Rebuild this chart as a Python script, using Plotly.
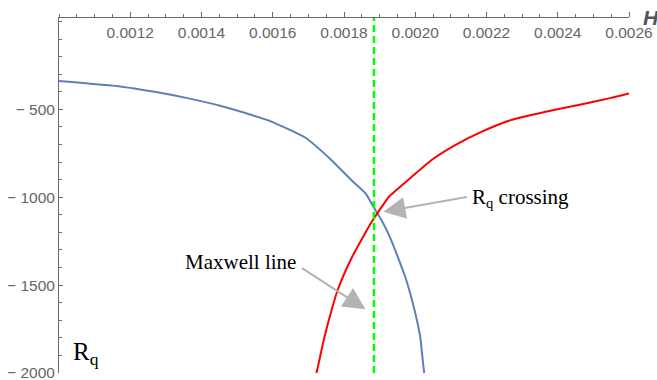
import plotly.graph_objects as go

# ---- data ----
blue_H = [0.001000, 0.001176, 0.001268, 0.001360, 0.001455, 0.001547, 0.001598,
          0.001693, 0.001765, 0.001821, 0.001860, 0.001888, 0.001905, 0.001930,
          0.001972, 0.002000, 0.002014, 0.002025, 0.002030]
blue_R = [-339, -371, -400, -436, -481, -536, -571,
          -663, -789, -903, -977, -1073, -1130, -1232,
          -1454, -1659, -1796, -1996, -2030]

red_H = [0.001715, 0.001723, 0.001743, 0.001765, 0.001782, 0.001821, 0.001877,
         0.001919, 0.001925, 0.001989, 0.002045, 0.002112, 0.002184, 0.002268,
         0.002363, 0.002455, 0.002547, 0.002600]
red_R = [-2040, -1996, -1814, -1643, -1529, -1347, -1142,
         -1016, -999, -886, -789, -703, -629, -561,
         -515, -476, -436, -410]

maxwell_H = 0.001884
maxwell_R = [-2000, 20]

x_tickvals = [0.0012, 0.0014, 0.0016, 0.0018, 0.0020, 0.0022, 0.0024, 0.0026]
x_ticktext = ["0.0012", "0.0014", "0.0016", "0.0018", "0.0020", "0.0022", "0.0024", "0.0026"]
y_tickvals = [-500, -1000, -1500, -2000]
y_ticktext = ["\u2212 500", "\u2212 1000", "\u2212 1500", "\u2212 2000"]

crossing_tip = (0.0019106, -1083)
maxwell_tip = (0.0018603, -1637)

# ---- figure ----
fig = go.Figure()
fig.add_trace(go.Scatter(x=blue_H, y=blue_R, mode="lines",
                         line=dict(color="#5E81B5", width=2, shape="spline", smoothing=0.5),
                         showlegend=False))
fig.add_trace(go.Scatter(x=red_H, y=red_R, mode="lines",
                         line=dict(color="#FF0000", width=2, shape="spline", smoothing=0.5),
                         showlegend=False))
fig.add_trace(go.Scatter(x=[maxwell_H, maxwell_H], y=maxwell_R, mode="lines",
                         line=dict(color="#00FF00", width=2.5, dash="7px,4px"),
                         showlegend=False))

axis_col = "#6b6b6b"
tickfont = dict(family="Liberation Sans, Arial, sans-serif", size=15.5, color="#666666")

fig.update_layout(
    width=657, height=380,
    margin=dict(l=59, r=28, t=18, b=7),
    paper_bgcolor="white", plot_bgcolor="white",
    xaxis=dict(range=[0.001, 0.0026], side="top", showgrid=False, zeroline=False,
               automargin=False, ticklabeloverflow="allow",
               showline=True, linecolor=axis_col, linewidth=1,
               ticks="outside", ticklen=5, tickcolor=axis_col, tickwidth=1,
               ticklabelposition="inside", ticklabelstandoff=9,
               tickvals=x_tickvals, ticktext=x_ticktext, tickfont=tickfont,
               minor=dict(ticks="outside", ticklen=3, dtick=0.00005, tick0=0.001,
                          tickcolor=axis_col, tickwidth=1, showgrid=False)),
    yaxis=dict(range=[-2000, 20], showgrid=False, zeroline=False,
               automargin=False, ticklabeloverflow="allow",
               showline=True, linecolor=axis_col, linewidth=1,
               ticks="inside", ticklen=4, tickcolor=axis_col, tickwidth=1,
               tickvals=y_tickvals, ticktext=y_ticktext, tickfont=tickfont,
               minor=dict(ticks="inside", ticklen=2.5, dtick=100, tick0=0,
                          tickcolor=axis_col, tickwidth=1, showgrid=False)),
)

serif = "Liberation Serif, Times New Roman, serif"
arrow_col = "#B3B3B3"

# arrows
fig.add_annotation(x=crossing_tip[0], y=crossing_tip[1], xref="x", yref="y",
                   text="", showarrow=True, arrowhead=2, arrowsize=2.2, arrowwidth=2,
                   arrowcolor=arrow_col, ax=85, ay=-15, standoff=0)
fig.add_annotation(x=maxwell_tip[0], y=maxwell_tip[1], xref="x", yref="y",
                   text="", showarrow=True, arrowhead=2, arrowsize=2.2, arrowwidth=2,
                   arrowcolor=arrow_col, ax=-65, ay=-42, standoff=0)

# texts
fig.add_annotation(x=0.0021536, y=-1005, xref="x", yref="y", xanchor="left", yanchor="middle",
                   text="R<sub>q</sub> crossing", showarrow=False,
                   font=dict(family=serif, size=21, color="black"))
fig.add_annotation(x=0.0013492, y=-1370, xref="x", yref="y", xanchor="left", yanchor="middle",
                   text="Maxwell line", showarrow=False,
                   font=dict(family=serif, size=21, color="black"))
fig.add_annotation(x=0.021, y=-1888, xref="paper", yref="y", xanchor="left", yanchor="middle",
                   text="R<sub>q</sub>", showarrow=False,
                   font=dict(family=serif, size=25, color="black"))
fig.add_annotation(x=1, y=1, xref="paper", yref="paper", xanchor="left", yanchor="middle",
                   xshift=12, yshift=1, text="<b><i>H</i></b>", showarrow=False,
                   font=dict(family="Liberation Sans, Arial, sans-serif", size=21, color="#555555"))

fig.write_html("out.html", config={"displayModeBar": False},
               post_script="document.body.style.margin='0';document.body.style.overflow='hidden';")
